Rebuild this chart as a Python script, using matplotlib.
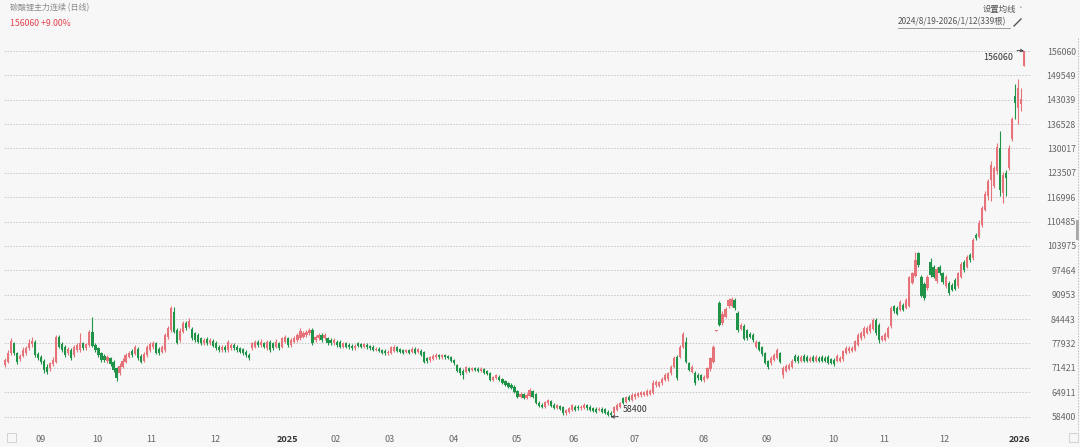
import matplotlib.pyplot as plt
import numpy as np
from matplotlib.lines import Line2D
from matplotlib.patches import Rectangle

plt.rcParams['font.family'] = ['Noto Sans CJK SC', 'DejaVu Sans']

# daily bars, 2024/8/19 - 2026/1/12 (339 bars)
opens = [
    72150, 73040, 75260, 77930, 75260, 73660, 74550, 75440, 76600, 77750,
    78380, 75080, 74190, 73300, 71700, 71260, 72410, 73040, 79530, 77750,
    76860, 75260, 76150, 74820, 76150, 76150, 77930, 76600, 77490, 81050,
    77490, 76600, 75260, 74550, 73300, 73930, 73040, 71260, 70100, 71700,
    73040, 74370, 75970, 75080, 76330, 74550, 73300, 74820, 76150, 76860,
    77930, 76330, 75710, 76150, 79530, 81490, 86390, 81490, 78820, 81050,
    83270, 82380, 81670, 80600, 80160, 79270, 77930, 79180, 77930, 78640,
    78110, 77040, 76150, 77040, 76150, 76600, 77490, 77040, 76600, 76330,
    75710, 74820, 76600, 77040, 78380, 77490, 77930, 76600, 78380, 77930,
    77040, 77930, 77040, 78380, 79270, 77490, 78380, 78820, 79270, 79710,
    80160, 80600, 81490, 78820, 79270, 80160, 79270, 79270, 78820, 77930,
    78380, 78380, 77040, 77930, 77490, 77220, 76600, 77930, 77750, 77040,
    77490, 77220, 77040, 76150, 76510, 76150, 75970, 75260, 75440, 75970,
    76860, 76330, 76150, 75620, 76150, 75710, 76510, 75620, 75970, 75710,
    73930, 73480, 73840, 74190, 74820, 74190, 74730, 74550, 74190, 73480,
    72150, 71260, 70630, 70370, 71340, 70810, 71340, 71170, 70630, 70990,
    70450, 70100, 68140, 68590, 69030, 68320, 67780, 67250, 66890, 66360,
    65110, 63690, 64400, 63250, 63870, 65110, 64400, 62090, 61550, 61020,
    61910, 62440, 61550, 60580, 61200, 60840, 59240, 59690, 60130, 61020,
    61020, 60580, 60660, 61380, 61020, 60580, 60490, 60130, 60490, 60310,
    59690, 59420, 59240, 60130, 61020, 63250, 62360, 63690, 62800, 63510,
    63870, 64140, 64220, 64220, 64400, 64760, 66810, 66540, 67250, 68140,
    68320, 69920, 71700, 74190, 74370, 77040, 78380, 72590, 70370, 69920,
    69480, 69390, 68140, 68590, 70990, 73040, 81310, 88720, 83400, 84990,
    87830, 88010, 89600, 86060, 81800, 82690, 81440, 80560, 80290, 77010,
    78250, 77010, 75240, 73110, 72570, 73460, 73990, 75240, 69380, 70620,
    71150, 71600, 74530, 74350, 73280, 74700, 74350, 73280, 74350, 73280,
    73990, 74350, 73990, 74350, 73640, 73460, 73280, 73280, 73640, 75410,
    75860, 75940, 76300, 77630, 79400, 79850, 80730, 81180, 81800, 84110,
    82860, 78960, 78960, 79670, 82510, 87830, 87300, 86940, 88270, 87390,
    88010, 94040, 95990, 102200, 95810, 93860, 92710, 99800, 98470, 94480,
    98300, 96700, 93150, 94040, 93510, 94930, 93150, 95810, 99800, 98470,
    101580, 100660, 106930, 106480, 109610, 113640, 117220, 121690, 119900, 123930,
    130200, 118110, 123480, 124830, 132430, 144070, 140940, 141830, 152120,
]
highs = [
    73930, 76150, 79270, 78380, 75710, 75080, 76860, 77220, 79000, 79530,
    78820, 75710, 74730, 73660, 72410, 73040, 74190, 80160, 80160, 78380,
    77400, 76860, 76600, 77400, 78110, 80600, 78380, 78110, 81490, 85050,
    77930, 77040, 75710, 75080, 74730, 74370, 73480, 71700, 72590, 73930,
    75260, 75970, 76330, 77490, 76860, 75080, 75620, 77400, 78290, 78460,
    78380, 76860, 77400, 80600, 82560, 87900, 87720, 81940, 81940, 83980,
    83980, 84610, 82200, 81050, 80600, 79710, 79270, 79710, 79350, 79000,
    78460, 77490, 77570, 77490, 78820, 77930, 77930, 77490, 77040, 76770,
    76150, 75260, 78380, 78820, 78820, 79000, 78380, 78820, 78820, 78380,
    79000, 78380, 79710, 80240, 79710, 79350, 79890, 80600, 81940, 81130,
    81490, 81940, 81940, 80160, 80600, 80600, 80600, 79710, 79270, 79270,
    78820, 78820, 78380, 78380, 77930, 77660, 77660, 78290, 78110, 78110,
    77930, 77570, 77400, 76860, 76860, 76510, 76330, 76150, 77220, 77490,
    77220, 76680, 76510, 76510, 76510, 76860, 76860, 76770, 76330, 75970,
    74370, 74550, 74990, 75260, 75170, 75080, 75080, 74900, 74550, 73840,
    72410, 71700, 70990, 71880, 71700, 71700, 71700, 71520, 71520, 71340,
    70810, 70370, 69300, 69740, 69390, 68670, 68140, 67610, 67250, 66720,
    65470, 64940, 64760, 64580, 66000, 65470, 64760, 62440, 61910, 62620,
    63160, 62800, 61910, 61730, 61550, 61200, 60490, 61020, 61730, 61380,
    61380, 61380, 61910, 61730, 61380, 60930, 60840, 60840, 60840, 60660,
    60130, 59770, 61200, 61910, 62360, 63690, 63870, 64050, 64580, 64760,
    64940, 65290, 65290, 65650, 65830, 68140, 68140, 67960, 69030, 69920,
    70370, 72150, 74550, 74820, 77490, 80960, 79710, 72950, 72060, 70450,
    69920, 69740, 69390, 71700, 74370, 77490, 81490, 89160, 86500, 87650,
    90050, 90310, 89960, 86500, 83400, 83040, 81800, 80910, 80730, 78960,
    78610, 77360, 75590, 73460, 74530, 75410, 76740, 75590, 71860, 72310,
    72750, 73640, 74970, 74880, 74790, 75150, 74790, 74530, 74880, 74790,
    74530, 74880, 74530, 74880, 74080, 73990, 74970, 74530, 76300, 77190,
    77190, 77190, 78960, 80730, 81180, 82510, 82510, 83400, 84730, 84640,
    83400, 80290, 81090, 82510, 87830, 88270, 87830, 89430, 88720, 90050,
    95990, 97140, 102470, 102470, 96260, 94220, 96260, 100690, 98920, 98300,
    98830, 97140, 96260, 94480, 94040, 95370, 97140, 99800, 100250, 101580,
    102020, 106030, 107550, 110950, 114710, 118560, 121870, 126620, 125450, 131540,
    134670, 123660, 124380, 130820, 138520, 147200, 148540, 146310, 156060,
]
lows = [
    71700, 72590, 74820, 74820, 72410, 73300, 74190, 74820, 76150, 77040,
    74370, 73480, 72410, 70100, 69740, 70630, 71880, 72770, 76600, 75710,
    74370, 74730, 73480, 74370, 75710, 75710, 76150, 76150, 77040, 76860,
    75710, 74370, 73040, 72950, 72770, 71880, 70370, 67960, 69480, 71260,
    72590, 73930, 74370, 74730, 73480, 72590, 72950, 74370, 75710, 76330,
    75080, 74820, 75260, 75710, 79180, 81050, 80600, 77750, 78380, 80600,
    81490, 81940, 78820, 78380, 77930, 77490, 77490, 77490, 77490, 76860,
    76150, 75710, 75710, 75710, 75710, 76150, 76150, 75710, 75260, 74820,
    74370, 73480, 76150, 76600, 77040, 77040, 76600, 76150, 75710, 76150,
    76600, 76150, 76600, 77930, 77040, 77040, 77930, 78380, 78820, 79270,
    79710, 80160, 77490, 78380, 78820, 78380, 78820, 77490, 77490, 77490,
    77040, 76600, 76600, 76600, 76330, 76150, 76150, 76860, 76680, 76600,
    76510, 76150, 75790, 75790, 75620, 75080, 74900, 74900, 75080, 75620,
    75620, 75440, 75080, 75260, 75080, 75260, 75080, 75260, 74550, 72770,
    72770, 73040, 73480, 73840, 73840, 73840, 73840, 73660, 73040, 72230,
    70280, 69480, 68500, 70100, 70280, 70450, 70450, 70280, 70280, 69740,
    69390, 67780, 67780, 68320, 67780, 67070, 66540, 66000, 65650, 64760,
    63330, 63330, 62980, 62980, 63510, 63330, 61730, 60840, 60660, 60660,
    61550, 60840, 60310, 60310, 60130, 58880, 58880, 59420, 59770, 59770,
    60130, 60220, 60310, 60220, 59770, 59510, 59420, 59770, 59420, 59060,
    58530, 58400, 58880, 59770, 60660, 61730, 61910, 62440, 62440, 63160,
    63510, 63690, 63870, 63870, 64050, 64400, 66360, 66180, 66890, 67780,
    67960, 69560, 71340, 68140, 73930, 76600, 72590, 70450, 69920, 66890,
    68140, 67780, 67700, 68320, 70630, 72590, 81130, 82690, 82950, 84640,
    87390, 87650, 86940, 81090, 81440, 78780, 78960, 79320, 78430, 76650,
    75940, 74530, 72400, 71150, 72220, 73110, 73640, 72570, 68760, 70270,
    70800, 71330, 72930, 72750, 72930, 72930, 72840, 72930, 72840, 72930,
    72930, 72840, 72930, 72400, 72400, 71860, 72930, 72930, 73280, 75060,
    75410, 75590, 75940, 77190, 78960, 79490, 80380, 80730, 81440, 80290,
    78070, 78520, 78520, 79320, 82150, 86060, 85520, 86590, 86590, 87120,
    87650, 93680, 95640, 98470, 90310, 89600, 92270, 95810, 95460, 94040,
    96260, 93860, 92710, 90930, 91820, 92090, 92710, 95370, 97140, 98030,
    99800, 100210, 105580, 106030, 109160, 113190, 116320, 115880, 119370, 123300,
    117220, 115430, 117220, 124200, 131990, 137800, 136460, 140040, 151940,
]
closes = [
    73480, 75260, 78640, 75260, 73040, 74550, 76150, 76600, 78110, 78640,
    74820, 73930, 73040, 70810, 70370, 72590, 73480, 79710, 77040, 76150,
    74820, 76330, 73930, 76860, 77490, 77930, 76600, 77750, 81050, 77220,
    76150, 74820, 73480, 73480, 74190, 72410, 70810, 68590, 71880, 73300,
    74820, 75440, 74820, 77040, 73930, 73040, 75080, 76860, 77750, 77930,
    75440, 75260, 76860, 80160, 81940, 87280, 81050, 78110, 81310, 83450,
    81940, 83980, 79270, 78820, 78380, 77930, 78820, 77930, 78820, 77220,
    76600, 76150, 77040, 76150, 78380, 77490, 76600, 76150, 75710, 75260,
    74820, 73930, 77930, 78380, 77490, 78380, 77040, 78380, 76150, 76600,
    78380, 76600, 79270, 79710, 77490, 78820, 79270, 80160, 81310, 80600,
    81050, 81490, 77930, 79710, 80160, 78820, 80160, 77930, 77930, 78820,
    77490, 77040, 77930, 77040, 76860, 76600, 77220, 77220, 77040, 77660,
    76860, 76600, 76150, 76510, 75970, 75440, 75260, 75710, 76860, 77040,
    75970, 75710, 75440, 76150, 75440, 76510, 75440, 76330, 74820, 73040,
    73120, 74190, 74550, 74820, 74190, 74730, 74190, 73930, 73300, 72590,
    70630, 69920, 69480, 71520, 70630, 71260, 70810, 70630, 71170, 70100,
    69740, 68140, 68850, 69390, 68140, 67430, 66890, 66360, 65920, 65030,
    63690, 64400, 63330, 64140, 65470, 63690, 62090, 61200, 61020, 62270,
    62800, 61200, 60660, 61380, 60490, 59240, 60130, 60580, 61380, 60130,
    60580, 61020, 61470, 60580, 60130, 59860, 59690, 60490, 59690, 59420,
    58800, 58710, 60840, 61470, 61910, 62090, 63510, 62800, 64140, 64400,
    64580, 64940, 64940, 65290, 65290, 67430, 67700, 67610, 68500, 69480,
    69920, 71700, 73930, 68590, 77040, 80420, 73040, 70810, 71700, 67250,
    68590, 68140, 69030, 71260, 73930, 77040, 81490, 82950, 85880, 87120,
    89600, 89780, 87390, 81440, 82950, 79140, 79400, 79670, 78780, 78430,
    76300, 74970, 72750, 71690, 73990, 74880, 76300, 72930, 71330, 71860,
    72220, 73190, 73280, 73190, 74350, 73280, 73190, 73990, 73190, 74350,
    73280, 73190, 73280, 72750, 72750, 72310, 74530, 74080, 75860, 76740,
    76650, 76740, 78520, 80200, 80730, 81980, 82060, 82950, 84280, 80730,
    78960, 79850, 80560, 82060, 87390, 86500, 85880, 88890, 86940, 89600,
    95640, 96700, 100250, 98920, 90670, 90050, 95810, 96260, 95810, 97760,
    96700, 94220, 95810, 91380, 92270, 92440, 96700, 99180, 97590, 101140,
    100250, 105580, 106030, 110240, 114090, 117930, 121250, 125720, 124830, 130460,
    119010, 123040, 122140, 130200, 137800, 142280, 146310, 143180, 156060,
]

month_starts = [10, 29, 47, 68, 90, 108, 126, 147, 168, 187, 207, 230, 251, 273, 290, 310, 333]
month_labels = ['09', '10', '11', '12', '2025', '02', '03', '04', '05', '06',
                '07', '08', '09', '10', '11', '12', '2026']
price_ticks = [58400, 64911, 71421, 77932, 84443, 90953, 97464, 103975,
               110485, 116996, 123507, 130017, 136528, 143039, 149549, 156060]

up_color = '#e6737a'
down_color = '#1f9448'
bg = '#f7f7f7'

fig = plt.figure(figsize=(10.8, 4.47), dpi=100, facecolor=bg)
ax = fig.add_axes([4 / 1080, 19 / 447, 1026 / 1080, 390 / 447])
ax.set_facecolor(bg)

o = np.array(opens)
h = np.array(highs)
l = np.array(lows)
c = np.array(closes)
idx = np.arange(len(o))
colors = np.where(c >= o, up_color, down_color)

ax.vlines(idx, l, h, colors=colors, linewidth=0.8, zorder=2)
body_low = np.minimum(o, c)
body_h = np.maximum(np.abs(c - o), 100)
ax.bar(idx, body_h, width=0.72, bottom=body_low, color=colors, linewidth=0, zorder=3)

ax.set_xlim(-0.33, 340.0)
ax.set_ylim(55330, 159540)

ax.set_yticks(price_ticks)
ax.set_yticklabels([str(t) for t in price_ticks])
ax.yaxis.tick_right()
ax.tick_params(axis='y', length=0, pad=33, labelsize=6.3, labelcolor='#666666')
for lab in ax.get_yticklabels():
    lab.set_horizontalalignment('right')
ax.grid(axis='y', color='#c6c6c6', linestyle=(0, (1.5, 1.5)), linewidth=0.7, zorder=0)

ax.set_xticks(month_starts)
ax.set_xticklabels(month_labels)
ax.tick_params(axis='x', length=0, pad=4.7, labelsize=6.6, labelcolor='#666666')
for lab in ax.get_xticklabels():
    lab.set_horizontalalignment('left')
    if len(lab.get_text()) == 4:
        lab.set_fontweight('bold')
        lab.set_color('#333333')

for sp in ax.spines.values():
    sp.set_visible(False)

# high / low marks
arrow = dict(arrowstyle='->', color='#333333', lw=0.6, mutation_scale=5,
             connectionstyle='arc3,rad=-0.2', shrinkA=1, shrinkB=0)
ax.annotate('156060', xy=(338, max(highs)), xytext=(334.3, 154400),
            ha='right', va='center', fontsize=6.4, color='#333333', arrowprops=arrow)
ax.annotate('58400', xy=(201, min(lows)), xytext=(204.8, 60150),
            ha='left', va='center', fontsize=6.4, color='#333333', arrowprops=arrow)

# header
fig.text(10 / 1080, 1 - 8 / 447, '碳酸锂主力连续 (日线)', fontsize=5.8,
         color='#8a8a8a', va='center')
fig.text(10 / 1080, 1 - 23 / 447, '156060 +9.00%', fontsize=6.3,
         color='#e5434f', va='center')
fig.text(1016 / 1080, 1 - 9 / 447, '设置均线', ha='right', fontsize=6,
         color='#555555', va='center')
fig.text(1018 / 1080, 1 - 10 / 447, '˅', ha='left', fontsize=5,
         color='#777777', va='center')
fig.text(898 / 1080, 1 - 22 / 447, '2024/8/19-2026/1/12(339根)', fontsize=6,
         color='#555555', va='center')
fig.add_artist(Line2D([898 / 1080, 1010 / 1080], [1 - 28 / 447, 1 - 28 / 447],
                      color='#777777', lw=0.5))
fig.add_artist(Line2D([1014 / 1080, 1021 / 1080], [1 - 26 / 447, 1 - 19 / 447],
                      color='#555555', lw=1.0))

# right border, scroll handle, small corner icons
fig.add_artist(Line2D([1078 / 1080, 1078 / 1080], [1 - 38 / 447, 1 - 430 / 447],
                      color='#bbbbbb', lw=0.7, linestyle=(0, (1.5, 1.5))))
fig.add_artist(Rectangle((1076 / 1080, 1 - 240 / 447), 3 / 1080, 20 / 447,
                         color='#a8a8a8', lw=0))
fig.add_artist(Rectangle((7 / 1080, 1 - 442 / 447), 9 / 1080, 9 / 447,
                         facecolor='none', edgecolor='#cccccc', lw=0.6))
fig.add_artist(Rectangle((1069 / 1080, 1 - 442 / 447), 9 / 1080, 9 / 447,
                         facecolor='none', edgecolor='#cccccc', lw=0.6))

fig.savefig('out.png', dpi=100, facecolor=bg)
